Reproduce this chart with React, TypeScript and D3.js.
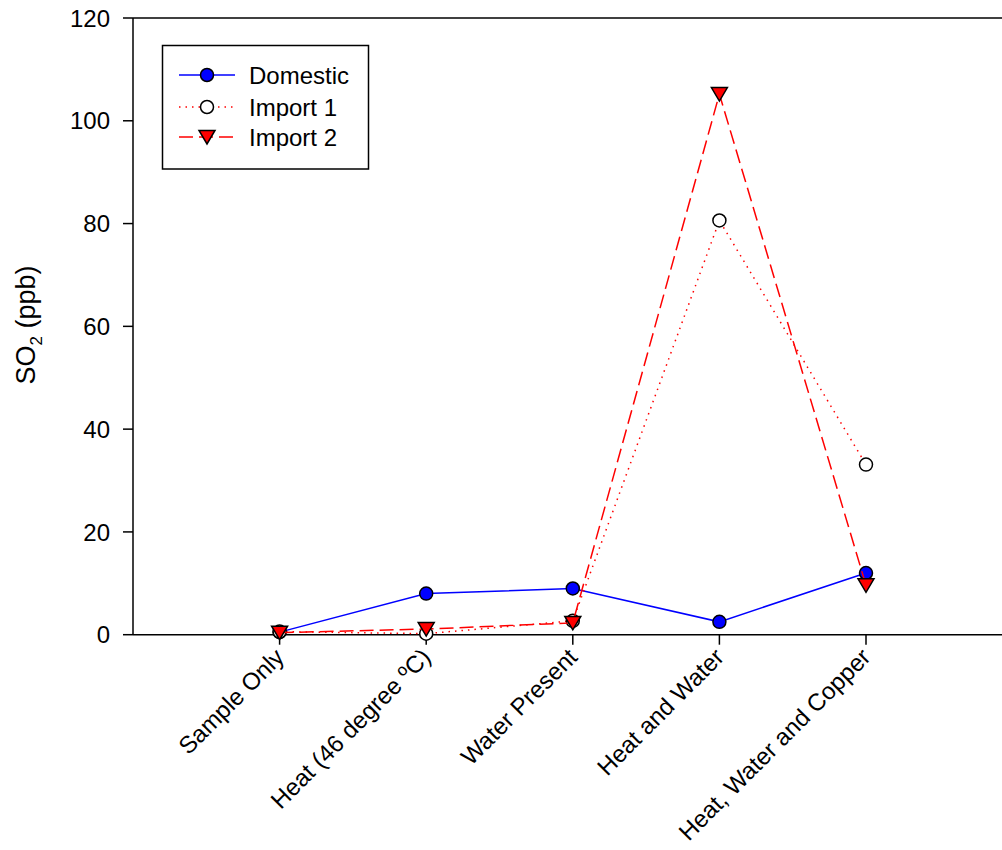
import React from "react";
import * as d3 from "d3";

const categories = ["Sample Only", "Heat (46 degree \u00BAC)", "Water Present", "Heat and Water", "Heat, Water and Copper"];
const domestic = [0.5, 8.0, 9.0, 2.5, 12.0];
const import1 = [0.6, 0.2, 2.7, 80.6, 33.1];
const import2 = [0.4, 1.1, 2.3, 105.2, 9.6];
const yTicks = [0, 20, 40, 60, 80, 100, 120];

const W = 1002;
const H = 850;
const left = 133;
const top = 18;
const bottom = 634.7;
const step = 146.6;

export default function App() {
  const x = d3.scaleLinear().domain([0, 6]).range([left, left + 6 * step]);
  const y = d3.scaleLinear().domain([0, 120]).range([bottom, top]);
  const line = d3
    .line<number>()
    .x((_, i) => x(i + 1))
    .y((d) => y(d));

  const font = "'Liberation Sans', Arial, sans-serif";
  const tri = (cx: number, cy: number, s = 8) =>
    `M${cx - s},${cy - 6.5} L${cx + s},${cy - 6.5} L${cx},${cy + 7} Z`;

  const series = [
    { name: "Domestic", data: domestic, color: "#0000ff", dash: undefined as string | undefined, marker: "dot" },
    { name: "Import 1", data: import1, color: "#ff0000", dash: "1.5 5", marker: "open" },
    { name: "Import 2", data: import2, color: "#ff0000", dash: "14 6", marker: "tri" },
  ];

  const drawMarker = (m: string, cx: number, cy: number, key: string) => {
    if (m === "dot")
      return <circle key={key} cx={cx} cy={cy} r={6.5} fill="#0000ff" stroke="#000" strokeWidth={1.5} />;
    if (m === "open")
      return <circle key={key} cx={cx} cy={cy} r={6.5} fill="#fff" stroke="#000" strokeWidth={1.5} />;
    return <path key={key} d={tri(cx, cy)} fill="#ff0000" stroke="#000" strokeWidth={1.5} strokeLinejoin="miter" />;
  };

  const legX0 = 179;
  const legX1 = 235;
  const legMid = 207;
  const legRows = [75, 107, 137];

  return (
    <svg
      width={W}
      height={H}
      style={{ position: "absolute", left: 0, top: 0, background: "#fff" }}
      fontFamily={font}
    >
      <rect x={0} y={0} width={W} height={H} fill="#fff" />
      {/* frame */}
      <line x1={left} y1={top} x2={W + 20} y2={top} stroke="#000" strokeWidth={1.5} />
      <line x1={left} y1={bottom} x2={W + 20} y2={bottom} stroke="#000" strokeWidth={1.5} />
      <line x1={left} y1={top} x2={left} y2={bottom} stroke="#000" strokeWidth={1.5} />

      {/* y ticks */}
      {yTicks.map((t) => (
        <g key={t}>
          <line x1={left - 10} x2={left} y1={y(t)} y2={y(t)} stroke="#000" strokeWidth={1.5} />
          <text x={110} y={y(t)} dy="0.36em" textAnchor="end" fontSize={24}>
            {t}
          </text>
        </g>
      ))}

      {/* x ticks */}
      {categories.map((c, i) => {
        const px = x(i + 1);
        return (
          <g key={c}>
            <line x1={px} x2={px} y1={bottom} y2={bottom + 10} stroke="#000" strokeWidth={1.5} />
            <text
              x={px + 6}
              y={bottom + 24}
              textAnchor="end"
              fontSize={24}
              transform={`rotate(-45 ${px + 6} ${bottom + 24})`}
            >
              {c}
            </text>
          </g>
        );
      })}

      {/* y label */}
      <text transform="translate(35 325) rotate(-90)" textAnchor="middle" fontSize={27}>
        SO
        <tspan fontSize={17} dy="7">2</tspan>
        <tspan dy="-7"> (ppb)</tspan>
      </text>

      {/* series */}
      {series.map((s) => (
        <g key={s.name}>
          <path d={line(s.data) || ""} fill="none" stroke={s.color} strokeWidth={1.5} strokeDasharray={s.dash} />
          {s.data.map((v, i) => drawMarker(s.marker, x(i + 1), y(v), `${s.name}-${i}`))}
        </g>
      ))}

      {/* legend */}
      <rect x={162.5} y={45.5} width={206} height={123.5} fill="#fff" stroke="#000" strokeWidth={1.5} />
      {series.map((s, i) => (
        <g key={s.name}>
          <line
            x1={legX0}
            x2={legX1}
            y1={legRows[i]}
            y2={legRows[i]}
            stroke={s.color}
            strokeWidth={1.5}
            strokeDasharray={s.dash}
          />
          {drawMarker(s.marker, legMid, legRows[i], `leg-${i}`)}
          <text x={249} y={legRows[i]} dy="0.36em" fontSize={24}>
            {s.name}
          </text>
        </g>
      ))}
    </svg>
  );
}
